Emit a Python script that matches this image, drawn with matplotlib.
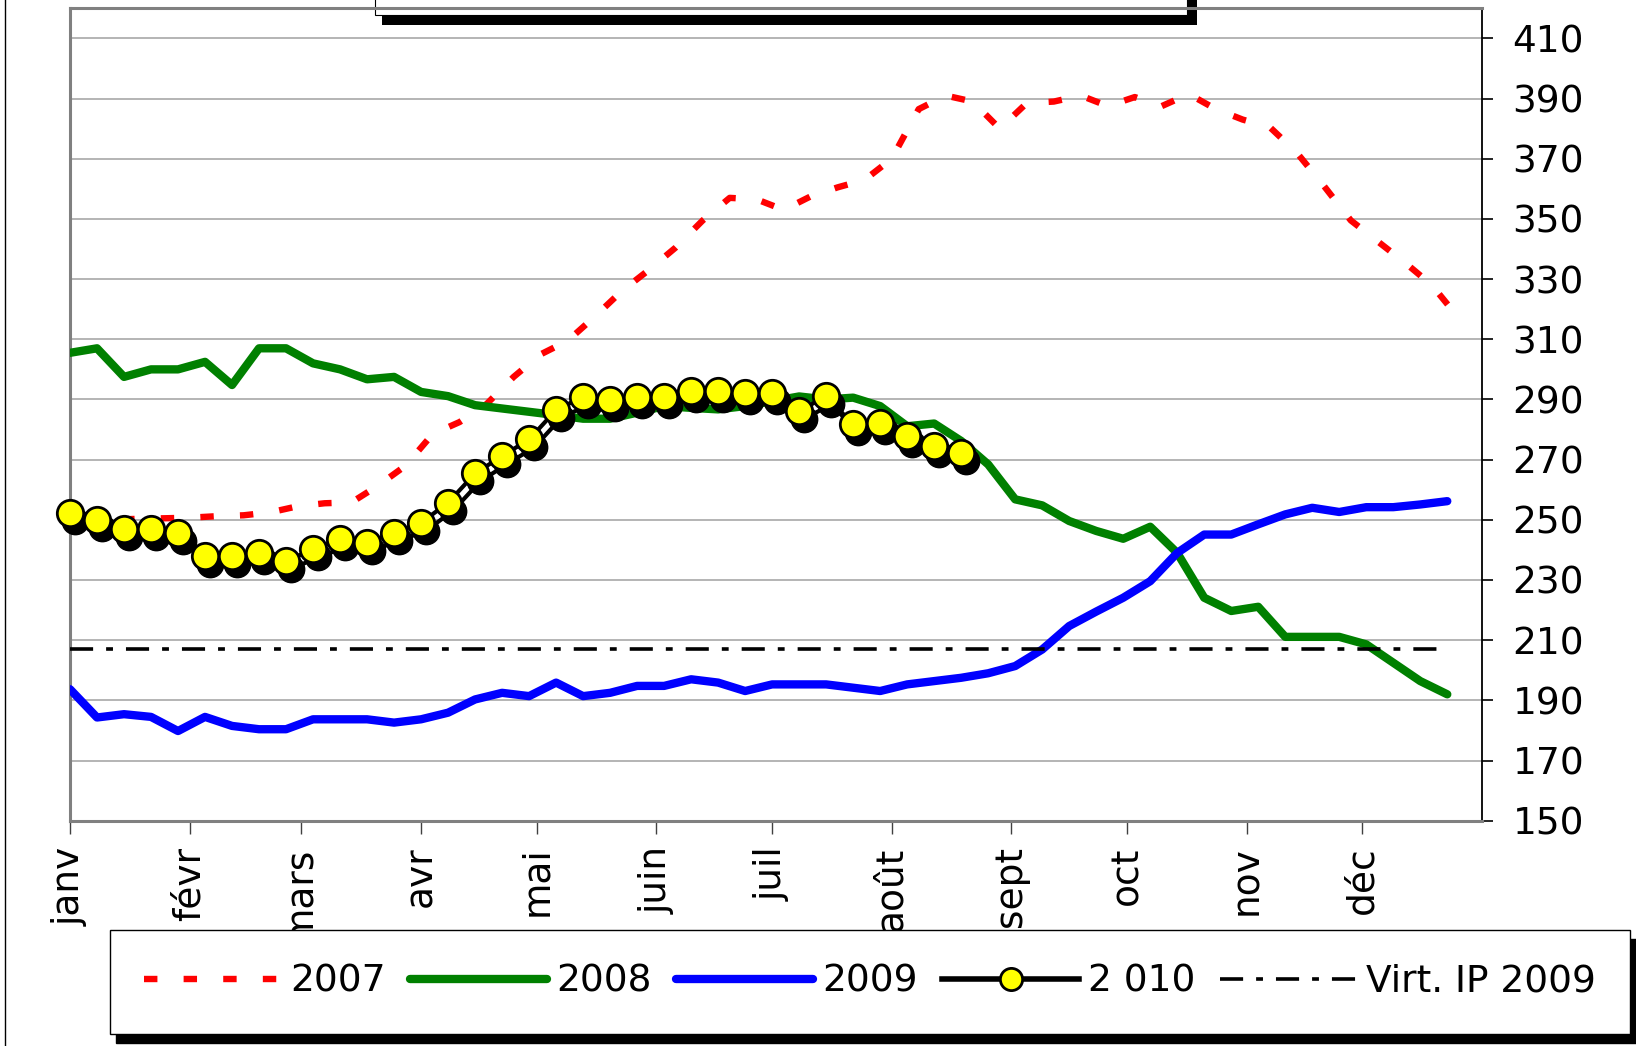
import matplotlib
matplotlib.use('Agg')
import matplotlib.pyplot as plt
import matplotlib.transforms as mtransforms
from matplotlib.patches import Rectangle
from matplotlib.lines import Line2D

plt.rcParams['font.family'] = ['DejaVu Sans']

# ---------------- data ----------------
months = ['janv', 'févr', 'mars', 'avr', 'mai', 'juin', 'juil', 'août',
          'sept', 'oct', 'nov', 'déc']
month_start_day = [0, 31, 60, 91, 121, 152, 182, 213, 244, 274, 305, 335]
y_ticks = [150, 170, 190, 210, 230, 250, 270, 290, 310, 330, 350, 370, 390, 410]

week_days = [7 * i for i in range(52)]          # weekly points (day of year)
red_days = [7 * i + 3 for i in range(52)]       # 2007 weeks fall 3 days later

s2007 = [250, 250, 250.3, 250.5, 250.7, 251.2, 251.5, 252.5, 254.5, 255.5,
         255.8, 261.5, 268, 278.5, 282.5, 288.5, 297.5, 305, 309.5, 317.5,
         326, 333, 340.5, 349.5, 357, 356.5, 353, 357.5, 360.5, 363,
         370, 386.5, 391, 389, 380, 388.5, 389, 391, 387.5, 390.5,
         387.5, 391.5, 386.5, 383, 380.5, 372, 361, 349.5, 342.5, 335.5,
         328, 317]
s2008 = [305.5, 307, 297.5, 300, 300, 302.5, 294.8, 307, 307, 302,
         300, 296.7, 297.5, 292.5, 291.1, 288.1, 287, 285.9, 284.8, 283.6,
         283.6, 285.6, 287.8, 287.2, 286.7, 287.8, 289.4, 291, 290, 290.6,
         287.8, 281.1, 282, 276.2, 268.4, 256.8, 254.8, 249.6, 246.3, 243.7,
         247.7, 239, 224.1, 219.7, 221.1, 211.1, 211.1, 211.1, 208.6, 202.5,
         196.4, 192]
s2009 = [193.7, 184.3, 185.4, 184.5, 179.8, 184.5, 181.5, 180.4, 180.4, 183.7,
         183.7, 183.7, 182.6, 183.7, 185.9, 190.3, 192.5, 191.4, 195.9, 191.4,
         192.5, 194.8, 194.8, 197, 195.9, 193.1, 195.3, 195.3, 195.3, 194.2,
         193.1, 195.3, 196.4, 197.5, 199, 201.4, 206.9, 214.7, 219.5, 224.1,
         229.6, 239, 245.1, 245.1, 248.5, 251.8, 254, 252.6, 254.2, 254.2,
         255.1, 256.2]
s2010 = [252.3, 250.1, 246.8, 246.8, 245.7, 238, 238, 239.1, 236.3, 240.2,
         243.5, 242.4, 245.7, 249, 255.7, 265.4, 271.2, 276.7, 286.5, 290.9,
         289.8, 290.9, 290.9, 292.8, 292.8, 292, 292, 286.1, 291.1, 281.7,
         282.2, 277.8, 274.5, 272.1]
virt_ip_2009 = 207.2

labels = ['2007', '2008', '2009', '2 010', 'Virt. IP 2009']

# ---------------- figure ----------------
W, H, DPI = 1636, 1046, 100
fig = plt.figure(figsize=(W / DPI, H / DPI), dpi=DPI)
fig.patch.set_facecolor('white')

# cut-off title box with shadow (behind plot area)
fig.add_artist(Rectangle((382 / W, (H - 25) / H), (1197 - 382) / W, 60 / H,
                         transform=fig.transFigure, facecolor='black',
                         edgecolor='none', zorder=-2))
fig.add_artist(Rectangle((375 / W, (H - 15) / H), (1187 - 375) / W, 60 / H,
                         transform=fig.transFigure, facecolor='white',
                         edgecolor='black', lw=0.8, zorder=-1))
# outer chart border on the left
fig.add_artist(Line2D([4.5 / W, 4.5 / W], [0, 1], transform=fig.transFigure,
                      color='black', lw=1.0))

ax = fig.add_axes([70 / W, (H - 820.7) / H, (1482 - 70) / W, (820.7 - 8.3) / H])
ax.set_facecolor('none')
ax.set_xlim(0, 366)
ax.set_ylim(150, 420)

for s in ['left', 'top', 'bottom']:
    ax.spines[s].set_color('#808080')
    ax.spines[s].set_linewidth(2.2)
ax.spines['right'].set_color('black')
ax.spines['right'].set_linewidth(1.3)

ax.yaxis.tick_right()
ax.set_yticks(y_ticks)
ax.tick_params(axis='y', direction='out', length=8, width=1.2, color='black',
               pad=14, labelsize=27)
ax.set_xticks(month_start_day)
ax.set_xticklabels(months, rotation=90, ha='center', va='top')
ax.tick_params(axis='x', direction='out', length=9.5, width=1.0,
               color='#404040', pad=9, labelsize=27)
ax.grid(axis='y', color='#a8a8a8', lw=1.2)
ax.grid(axis='x', visible=False)
ax.set_axisbelow(True)

l2007, = ax.plot(red_days, s2007, color='red', lw=4.6, ls=(0, (2.1, 4.1)),
                 dash_capstyle='butt', zorder=3)
l2008, = ax.plot(week_days, s2008, color='#008000', lw=6.0,
                 solid_capstyle='round', solid_joinstyle='round', zorder=4)
l2009, = ax.plot(week_days, s2009, color='#0000ff', lw=6.0,
                 solid_capstyle='round', solid_joinstyle='round', zorder=5)

days2010 = week_days[:len(s2010)]
shadow_tr = mtransforms.offset_copy(ax.transData, fig=fig, x=5, y=-8, units='dots')
ax.plot(days2010, s2010, color='black', lw=3.0, marker='o', ms=19,
        mfc='black', mec='black', transform=shadow_tr, zorder=6, clip_on=False)
l2010, = ax.plot(days2010, s2010, color='black', lw=3.0, marker='o', ms=19,
                 mfc='#ffff00', mec='black', mew=2.0, zorder=7, clip_on=False)

lvirt, = ax.plot([week_days[0], week_days[-1]], [virt_ip_2009, virt_ip_2009],
                 color='black', lw=2.6, ls=(0, (6.4, 3.6, 1.9, 3.6)),
                 dash_capstyle='butt', zorder=8)

leg = fig.legend([l2007, l2008, l2009, l2010, lvirt], labels,
                 loc='center', bbox_to_anchor=(110 / W, (H - 1037) / H, 1520 / W, 110 / H),
                 mode='expand', ncol=5, fontsize=27, frameon=True, fancybox=False,
                 shadow={'color': 'black', 'alpha': 1, 'ox': 4.3, 'oy': -6.5},
                 handlelength=3.65, handletextpad=0.25, borderpad=0.9,
                 borderaxespad=0, columnspacing=0.6)
leg.get_frame().set_edgecolor('black')
leg.get_frame().set_linewidth(1.0)
leg.legend_handles[3].set_markersize(16)
leg.legend_handles[3].set_linewidth(4.0)

fig.savefig('out.png', dpi=DPI)
